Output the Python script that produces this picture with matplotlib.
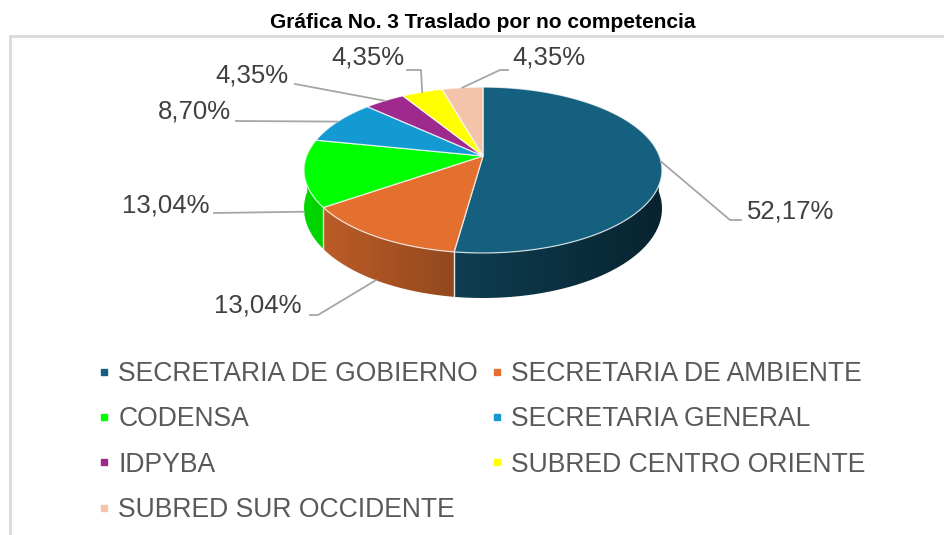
import numpy as np
import matplotlib.pyplot as plt
from matplotlib.lines import Line2D
from matplotlib.colors import to_rgb

plt.rcParams['font.family'] = ['Liberation Sans', 'DejaVu Sans']

# Data (counts out of 23 cases)
categories = ['SECRETARIA DE GOBIERNO', 'SECRETARIA DE AMBIENTE', 'CODENSA',
              'SECRETARIA GENERAL', 'IDPYBA', 'SUBRED CENTRO ORIENTE',
              'SUBRED SUR OCCIDENTE']
counts = [12, 3, 3, 2, 1, 1, 1]
colors = ['#16607f', '#e4702f', '#00ff00', '#139ad3', '#9e2a8e', '#ffff00', '#f3c3aa']

title = 'Gráfica No. 3 Traslado por no competencia'

# 3D pie geometry (pixels)
cx, cy = 483, 156        # apex of the pie
C, B = 176.4, 80.6       # horizontal / vertical radius
k = 0.169                # perspective strength
depth = 37.4             # wall height


def proj(theta, drop=0.0):
    t = np.radians(theta)
    u, v = np.cos(t), -np.sin(t)
    p = 1.0 / (1.0 - k * v)
    return cx + C * u * p, cy + B * v * p + drop * p, v


def shade_factor(x):
    return np.clip(0.84 - 0.00135 * (x - 310), 0.3, 0.9)


fig = plt.figure(figsize=(9.44, 5.35), dpi=100)
ax = fig.add_axes([0, 0, 1, 1])

total = sum(counts)
fracs = [c / total for c in counts]
bounds = [90.0]
for f in fracs:
    bounds.append(bounds[-1] - 360 * f)

# side walls (front half only), shaded darker to the right
for i, f in enumerate(fracs):
    lo, hi = sorted((bounds[i], bounds[i + 1]))
    # front half of the rim is theta in [-180, 0] (mod 360)
    ts = np.linspace(lo, hi, 400)
    ts = ts[np.sin(np.radians(ts)) <= 0.02]
    if len(ts) < 2:
        continue
    top = [proj(t)[:2] for t in ts]
    bot = [proj(t, depth)[:2] for t in ts[::-1]]
    poly = plt.Polygon(top + bot, closed=True, facecolor='none', edgecolor='none')
    ax.add_patch(poly)
    xs = np.array([p[0] for p in top + bot])
    ys = np.array([p[1] for p in top + bot])
    gx = np.linspace(xs.min(), xs.max(), 200)
    img = np.array(to_rgb(colors[i]))[None, None, :] * shade_factor(gx)[None, :, None]
    im = ax.imshow(img, extent=(xs.min(), xs.max(), ys.max(), ys.min()),
                   aspect='auto', interpolation='bilinear', zorder=1)
    im.set_clip_path(poly)

# wall seams between visible slices
for b in bounds[1:-1]:
    xt, yt, v = proj(b)
    if v > k:
        xb, yb, _ = proj(b, depth)
        ax.plot([xt, xb], [yt, yb], color='#e8e8e8', lw=1, zorder=1.5)

# top faces
for i, f in enumerate(fracs):
    ts = np.linspace(bounds[i], bounds[i + 1], 120)
    pts = [(cx, cy)] + [proj(t)[:2] for t in ts]
    ax.add_patch(plt.Polygon(pts, closed=True, facecolor=colors[i],
                             edgecolor=(1, 1, 1, 0.75), lw=0.9, zorder=2))

# data labels with leader lines (layout: label edge x, label centre y, elbow)
label_pos = [(747, 211, 'left', [(730, 220), (741, 220)]),
             (301, 306, 'right', [(318, 315), (310, 315)]),
             (209, 205, 'right', [(214, 213)]),
             (231, 112, 'right', [(236, 121)]),
             (289, 76, 'right', [(295, 84)]),
             (404, 57, 'right', [(421, 70), (407, 70)]),
             (512, 57, 'left', [(500, 70), (508, 70)])]
for i, f in enumerate(fracs):
    mid = (bounds[i] + bounds[i + 1]) / 2
    x, y, v = proj(mid)
    if v > k:
        x, y, _ = proj(mid, depth)
    tx, ty, ha, elbow = label_pos[i]
    xs = [x] + [p[0] for p in elbow]
    ys = [y] + [p[1] for p in elbow]
    ax.plot(xs, ys, color='#a6a6a6', lw=1.3, zorder=3)
    txt = f'{100 * f:.2f}%'.replace('.', ',')
    ax.text(tx, ty, txt, ha=ha, va='center', fontsize=18.5, color='#404040', zorder=4)

ax.set_xlim(0, 944)
ax.set_ylim(535, 0)
ax.axis('off')

# title and chart border
fig.text(483 / 944, 1 - 22 / 535, title, ha='center', va='center',
         fontsize=15, fontweight='bold', color='black')
fig.add_artist(Line2D([9.5 / 944, 9.5 / 944], [0, 1 - 36 / 535], color='#d9d9d9', lw=2))
fig.add_artist(Line2D([9.5 / 944, 1], [1 - 36 / 535, 1 - 36 / 535], color='#d9d9d9', lw=2))

# legend, row-major order in two columns
handles = [Line2D([], [], marker='s', ls='none', markersize=5, color=c) for c in colors]
order = [0, 2, 4, 6, 1, 3, 5]
fig.legend([handles[j] for j in order], [categories[j] for j in order], ncol=2,
           loc='upper left', bbox_to_anchor=(99 / 944, 1 - 361 / 535),
           frameon=False, fontsize=19.1, labelcolor='#595959',
           handlelength=0.4, handletextpad=0.33, columnspacing=0.5,
           labelspacing=0.73, borderpad=0, borderaxespad=0)

fig.savefig('out.png', dpi=100)
